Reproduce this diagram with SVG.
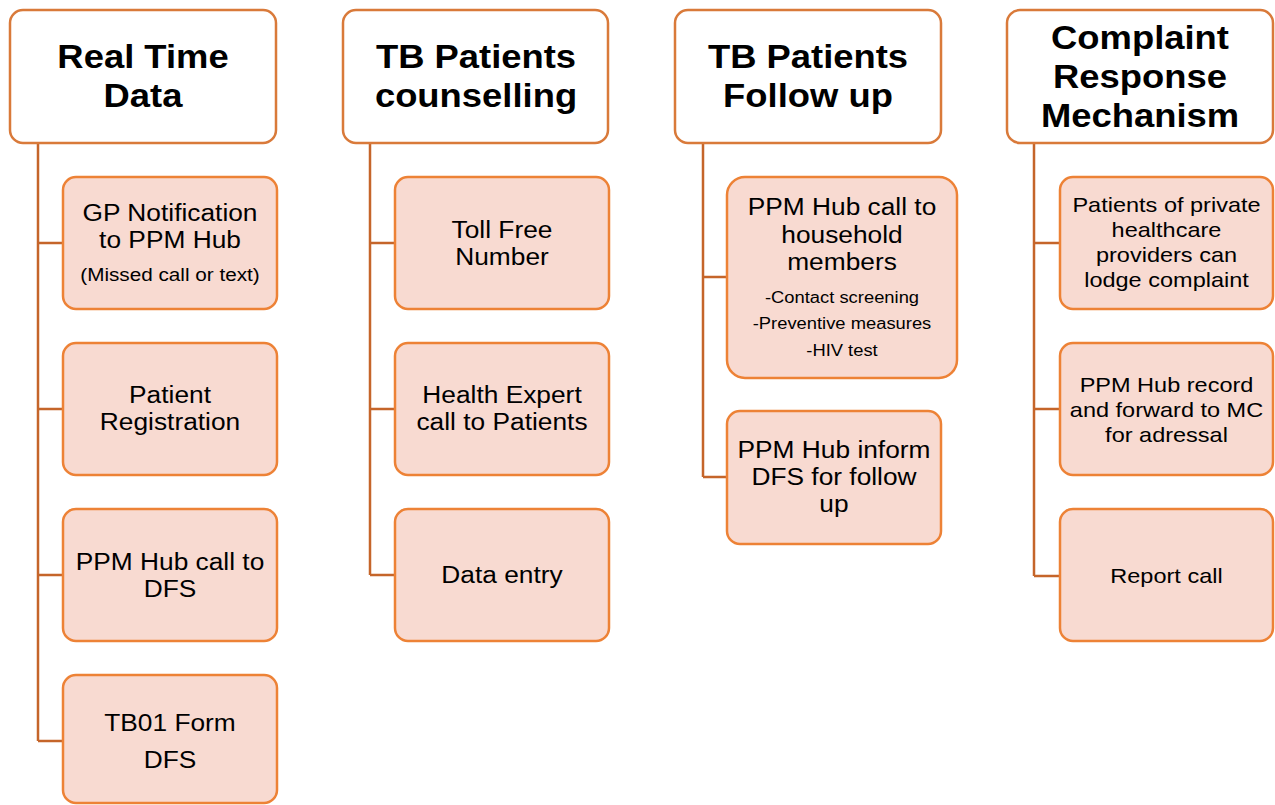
<svg xmlns="http://www.w3.org/2000/svg" width="1275" height="805" viewBox="0 0 1275 805">
<style>
.hd{fill:#FFFFFF;stroke:#D97A3A;stroke-width:2.5}
.ch{fill:#F8DAD1;stroke:#ED8236;stroke-width:2.5}
.cn{fill:none;stroke:#C5652A;stroke-width:2.5}
text{font-family:"Liberation Sans",Arial,sans-serif;fill:#000;text-anchor:middle}
.ht{font-size:32.5px;font-weight:bold}
.t{font-size:23.5px}
.t4{font-size:21px}
.s{font-size:18.5px}
.s2{font-size:16.4px}
</style>
<rect width="1275" height="805" fill="#FFFFFF"/>
<g id="connectors">
<path class="cn" d="M38 143V741M38 243H63M38 409H63M38 575H63M38 741H63"/>
<path class="cn" d="M370 143V575M370 243H395M370 409H395M370 575H395"/>
<path class="cn" d="M703 143V477M703 277H727M703 477H727"/>
<path class="cn" d="M1034 143V576M1034 243H1060M1034 409H1060M1034 576H1060"/>
</g>
<g id="h1"><rect class="hd" x="10" y="10" width="266" height="133" rx="13"/>
<text class="ht" transform="translate(143 0) scale(1.12 1)"><tspan x="0" y="68">Real Time</tspan><tspan x="0" y="107">Data</tspan></text></g>
<g id="h2"><rect class="hd" x="343" y="10" width="265" height="133" rx="13"/>
<text class="ht" transform="translate(476 0) scale(1.12 1)"><tspan x="0" y="68">TB Patients</tspan><tspan x="0" y="107">counselling</tspan></text></g>
<g id="h3"><rect class="hd" x="675" y="10" width="266" height="133" rx="13"/>
<text class="ht" transform="translate(808 0) scale(1.12 1)"><tspan x="0" y="68">TB Patients</tspan><tspan x="0" y="107">Follow up</tspan></text></g>
<g id="h4"><rect class="hd" x="1007" y="10" width="266" height="133" rx="13"/>
<text class="ht" transform="translate(1140 0) scale(1.12 1)"><tspan x="0" y="49">Complaint</tspan><tspan x="0" y="88">Response</tspan><tspan x="0" y="127">Mechanism</tspan></text></g>

<g id="c1a"><rect class="ch" x="63" y="177" width="214" height="132" rx="13"/>
<text class="t" transform="translate(170 0) scale(1.12 1)"><tspan x="0" y="221">GP Notification</tspan><tspan x="0" y="248">to PPM Hub</tspan></text>
<text class="s" transform="translate(170 0) scale(1.12 1)" x="0" y="281">(Missed call or text)</text></g>
<g id="c1b"><rect class="ch" x="63" y="343" width="214" height="132" rx="13"/>
<text class="t" transform="translate(170 0) scale(1.12 1)"><tspan x="0" y="403">Patient</tspan><tspan x="0" y="430">Registration</tspan></text></g>
<g id="c1c"><rect class="ch" x="63" y="509" width="214" height="132" rx="13"/>
<text class="t" transform="translate(170 0) scale(1.12 1)"><tspan x="0" y="570">PPM Hub call to</tspan><tspan x="0" y="597">DFS</tspan></text></g>
<g id="c1d"><rect class="ch" x="63" y="675" width="214" height="128" rx="13"/>
<text class="t" transform="translate(170 0) scale(1.12 1)"><tspan x="0" y="731">TB01 Form</tspan><tspan x="0" y="768">DFS</tspan></text></g>

<g id="c2a"><rect class="ch" x="395" y="177" width="214" height="132" rx="13"/>
<text class="t" transform="translate(502 0) scale(1.12 1)"><tspan x="0" y="238">Toll Free</tspan><tspan x="0" y="265">Number</tspan></text></g>
<g id="c2b"><rect class="ch" x="395" y="343" width="214" height="132" rx="13"/>
<text class="t" transform="translate(502 0) scale(1.12 1)"><tspan x="0" y="403">Health Expert</tspan><tspan x="0" y="430">call to Patients</tspan></text></g>
<g id="c2c"><rect class="ch" x="395" y="509" width="214" height="132" rx="13"/>
<text class="t" transform="translate(502 0) scale(1.12 1)" x="0" y="583">Data entry</text></g>

<g id="c3a"><rect class="ch" x="727" y="177" width="230" height="201" rx="18"/>
<text class="t" transform="translate(842 0) scale(1.12 1)"><tspan x="0" y="215">PPM Hub call to</tspan><tspan x="0" y="243">household</tspan><tspan x="0" y="270">members</tspan></text>
<text class="s2" transform="translate(842 0) scale(1.12 1)"><tspan x="0" y="303">-Contact screening</tspan><tspan x="0" y="329">-Preventive measures</tspan><tspan x="0" y="356">-HIV test</tspan></text></g>
<g id="c3b"><rect class="ch" x="727" y="411" width="214" height="133" rx="13"/>
<text class="t" transform="translate(834 0) scale(1.12 1)"><tspan x="0" y="458">PPM Hub inform</tspan><tspan x="0" y="485">DFS for follow</tspan><tspan x="0" y="512">up</tspan></text></g>

<g id="c4a"><rect class="ch" x="1060" y="177" width="213" height="132" rx="13"/>
<text class="t4" transform="translate(1166.5 0) scale(1.12 1)"><tspan x="0" y="212">Patients of private</tspan><tspan x="0" y="237">healthcare</tspan><tspan x="0" y="262">providers can</tspan><tspan x="0" y="287">lodge complaint</tspan></text></g>
<g id="c4b"><rect class="ch" x="1060" y="343" width="213" height="132" rx="13"/>
<text class="t4" transform="translate(1166.5 0) scale(1.12 1)"><tspan x="0" y="392">PPM Hub record</tspan><tspan x="0" y="417">and forward to MC</tspan><tspan x="0" y="442">for adressal</tspan></text></g>
<g id="c4c"><rect class="ch" x="1060" y="509" width="213" height="132" rx="13"/>
<text class="t4" transform="translate(1166.5 0) scale(1.12 1)" x="0" y="583">Report call</text></g>
</svg>
